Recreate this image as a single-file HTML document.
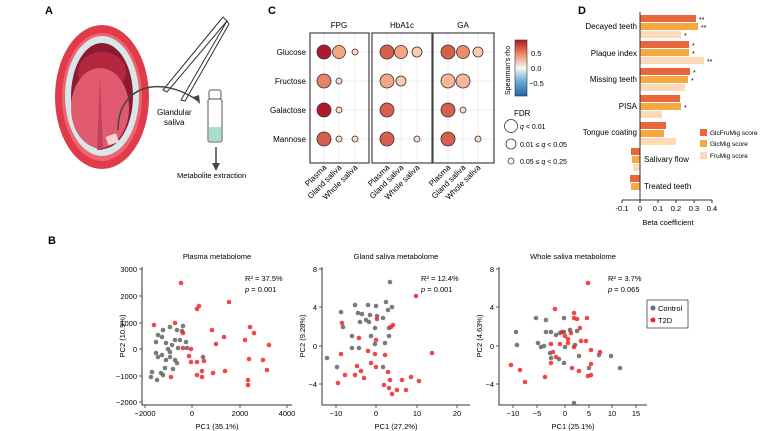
<!DOCTYPE html>
<html><head><meta charset="utf-8"><style>
html,body{margin:0;padding:0;background:#fff}
svg{display:block;font-family:"Liberation Sans",Arial,sans-serif}
</style></head><body>
<svg width="768" height="431" viewBox="0 0 768 431" xmlns="http://www.w3.org/2000/svg">
<!-- Panel A -->
<text x="45" y="14" font-size="11" font-weight="bold">A</text>
<ellipse cx="102" cy="97" rx="47" ry="72" fill="#df3b4a"/>
<ellipse cx="102" cy="97" rx="40" ry="64" fill="#f06470"/>
<ellipse cx="102" cy="96" rx="37" ry="60" fill="#d6e8ea"/>
<ellipse cx="102" cy="96" rx="31" ry="53" fill="#8e1a32"/>
<ellipse cx="102" cy="72" rx="24" ry="20" fill="#b4283f"/>
<ellipse cx="100" cy="108" rx="29" ry="40" fill="#e05a70"/>
<path d="M100 78 L97 150 L103 150 Z" fill="#c24058"/>
<rect x="107" y="135" width="11" height="9" fill="#f6d5da" transform="rotate(-20 112 140)"/>
<!-- tweezers -->
<path d="M223 17 L163 90 L167 92 L227 21 Z" fill="#fff" stroke="#333" stroke-width="1"/>
<path d="M227 21 L181 100 L185 101 L229 24 Z" fill="#fff" stroke="#333" stroke-width="1"/>
<path d="M118 130 C118 85 160 75 197 100" fill="none" stroke="#444" stroke-width="1.5"/>
<path d="M200 104 L193 97 L199 95 Z" fill="#444"/>
<text x="157" y="115" font-size="8">Glandular</text>
<text x="164" y="125" font-size="8">saliva</text>
<rect x="209" y="90" width="12" height="9" rx="2" fill="#fff" stroke="#555"/>
<rect x="208" y="99" width="14" height="43" rx="2" fill="#fff" stroke="#555"/>
<rect x="209" y="127" width="12" height="14" fill="#a8ddd0"/>
<line x1="216" y1="147" x2="216" y2="165" stroke="#444" stroke-width="1.5"/>
<path d="M212 163 L220 163 L216 171 Z" fill="#444"/>
<text x="177" y="178" font-size="7.5">Metabolite extraction</text>

<!-- Panel C -->
<text x="268" y="14" font-size="11" font-weight="bold">C</text>
<g font-size="8" text-anchor="middle">
<text x="339" y="28">FPG</text><text x="402" y="28">HbA1c</text><text x="463" y="28">GA</text></g>
<g stroke="#ececec" stroke-width="1">
<line x1="310" y1="52" x2="494" y2="52"/><line x1="310" y1="81" x2="494" y2="81"/>
<line x1="310" y1="110" x2="494" y2="110"/><line x1="310" y1="139" x2="494" y2="139"/>
<line x1="324" y1="33" x2="324" y2="163"/><line x1="339" y1="33" x2="339" y2="163"/><line x1="355" y1="33" x2="355" y2="163"/>
<line x1="387" y1="33" x2="387" y2="163"/><line x1="401" y1="33" x2="401" y2="163"/><line x1="417" y1="33" x2="417" y2="163"/>
<line x1="448" y1="33" x2="448" y2="163"/><line x1="463" y1="33" x2="463" y2="163"/><line x1="478" y1="33" x2="478" y2="163"/>
</g>
<g fill="none" stroke="#444" stroke-width="1.2">
<rect x="310" y="33" width="59" height="130"/><rect x="372" y="33" width="60" height="130"/><rect x="433" y="33" width="61" height="130"/></g>
<g font-size="8" text-anchor="end">
<text x="306" y="55">Glucose</text><text x="306" y="84">Fructose</text><text x="306" y="113">Galactose</text><text x="306" y="142">Mannose</text></g>
<g stroke="#333" stroke-width="0.8">
<circle cx="324" cy="52" r="7" fill="#b2182b"/><circle cx="339" cy="52" r="6.5" fill="#f4a582"/><circle cx="355" cy="52" r="3" fill="#fddbc7"/>
<circle cx="324" cy="81" r="7" fill="#e58267"/><circle cx="339" cy="81" r="3" fill="#fddbc7"/>
<circle cx="324" cy="110" r="7" fill="#b2182b"/><circle cx="339" cy="110" r="3" fill="#fddbc7"/>
<circle cx="324" cy="139" r="7" fill="#d6604d"/><circle cx="339" cy="139" r="3" fill="#fddbc7"/><circle cx="355" cy="139" r="3" fill="#fddbc7"/>
<circle cx="387" cy="52" r="7" fill="#d6604d"/><circle cx="401" cy="52" r="6.5" fill="#f4a582"/><circle cx="417" cy="52" r="5" fill="#fbcbb0"/>
<circle cx="387" cy="81" r="7" fill="#f4a582"/><circle cx="401" cy="81" r="5" fill="#fbcbb0"/>
<circle cx="387" cy="110" r="7" fill="#d6604d"/>
<circle cx="387" cy="139" r="7" fill="#d6604d"/><circle cx="417" cy="139" r="3" fill="#fddbc7"/>
<circle cx="448" cy="52" r="7" fill="#d6604d"/><circle cx="463" cy="52" r="6.5" fill="#ec8a6b"/><circle cx="478" cy="52" r="5" fill="#fbcbb0"/>
<circle cx="448" cy="81" r="7" fill="#f7b799"/><circle cx="463" cy="81" r="7" fill="#f7b799"/>
<circle cx="448" cy="110" r="7" fill="#d6604d"/><circle cx="463" cy="110" r="3" fill="#fddbc7"/>
<circle cx="448" cy="139" r="7" fill="#d6604d"/><circle cx="478" cy="139" r="3" fill="#fddbc7"/>
</g>
<g font-size="8" text-anchor="end">
<text transform="translate(327 168) rotate(-45)">Plasma</text><text transform="translate(342 168) rotate(-45)">Gland saliva</text><text transform="translate(358 168) rotate(-45)">Whole saliva</text>
<text transform="translate(390 168) rotate(-45)">Plasma</text><text transform="translate(404 168) rotate(-45)">Gland saliva</text><text transform="translate(420 168) rotate(-45)">Whole saliva</text>
<text transform="translate(451 168) rotate(-45)">Plasma</text><text transform="translate(466 168) rotate(-45)">Gland saliva</text><text transform="translate(481 168) rotate(-45)">Whole saliva</text>
</g>
<defs><linearGradient id="cb" x1="0" y1="0" x2="0" y2="1">
<stop offset="0" stop-color="#b2182b"/><stop offset="0.25" stop-color="#ef8a62"/><stop offset="0.5" stop-color="#f7f7f7"/><stop offset="0.75" stop-color="#67a9cf"/><stop offset="1" stop-color="#2166ac"/></linearGradient></defs>
<rect x="515" y="40" width="12" height="56" fill="url(#cb)" stroke="#333" stroke-width="0.6"/>
<g font-size="7.5"><text x="531" y="56">0.5</text><text x="531" y="71">0.0</text><text x="529" y="86">−0.5</text></g>
<text transform="translate(510 95) rotate(-90)" font-size="7">Spearman's rho</text>
<text x="514" y="116" font-size="8">FDR</text>
<g fill="#fff" stroke="#333" stroke-width="0.8"><circle cx="511" cy="126" r="6.5"/><circle cx="511" cy="144" r="5"/><circle cx="511" cy="161" r="3"/></g>
<g font-size="7"><text x="520" y="129"><tspan font-style="italic">q</tspan> &lt; 0.01</text>
<text x="520" y="147">0.01 ≤ <tspan font-style="italic">q</tspan> &lt; 0.05</text>
<text x="520" y="164">0.05 ≤ <tspan font-style="italic">q</tspan> &lt; 0.25</text></g>

<!-- Panel D -->
<text x="578" y="14" font-size="11" font-weight="bold">D</text>
<g>
<rect x="640" y="15" width="56" height="7" fill="#e8663d"/><rect x="640" y="23" width="58" height="7" fill="#f5a742"/><rect x="640" y="31" width="41" height="7" fill="#fdd9b5"/>
<rect x="640" y="41" width="49" height="7" fill="#e8663d"/><rect x="640" y="49" width="49" height="7" fill="#f5a742"/><rect x="640" y="57" width="64" height="7" fill="#fdd9b5"/>
<rect x="640" y="68" width="50" height="7" fill="#e8663d"/><rect x="640" y="76" width="48" height="7" fill="#f5a742"/><rect x="640" y="84" width="45" height="7" fill="#fdd9b5"/>
<rect x="640" y="95" width="40" height="7" fill="#e8663d"/><rect x="640" y="103" width="41" height="7" fill="#f5a742"/><rect x="640" y="111" width="22" height="7" fill="#fdd9b5"/>
<rect x="640" y="122" width="26" height="7" fill="#e8663d"/><rect x="640" y="130" width="24" height="7" fill="#f5a742"/><rect x="640" y="138" width="36" height="7" fill="#fdd9b5"/>
<rect x="631" y="148" width="9" height="7" fill="#e8663d"/><rect x="632" y="156" width="8" height="7" fill="#f5a742"/><rect x="633" y="164" width="7" height="7" fill="#fdd9b5"/>
<rect x="630" y="175" width="10" height="7" fill="#e8663d"/><rect x="631" y="183" width="9" height="7" fill="#f5a742"/>
</g>
<g font-size="7"><text x="699" y="22">**</text><text x="701" y="30">**</text><text x="684" y="38">*</text>
<text x="692" y="48">*</text><text x="692" y="56">*</text><text x="707" y="64">**</text>
<text x="693" y="75">*</text><text x="691" y="83">*</text><text x="684" y="110">*</text></g>
<line x1="640" y1="12" x2="640" y2="200" stroke="#333" stroke-width="1"/>
<line x1="622" y1="200" x2="712" y2="200" stroke="#333" stroke-width="1"/>
<g stroke="#333"><line x1="622" y1="200" x2="622" y2="203"/><line x1="640" y1="200" x2="640" y2="203"/><line x1="658" y1="200" x2="658" y2="203"/><line x1="676" y1="200" x2="676" y2="203"/><line x1="694" y1="200" x2="694" y2="203"/><line x1="712" y1="200" x2="712" y2="203"/></g>
<g font-size="7.5" text-anchor="middle"><text x="622" y="211">-0.1</text><text x="640" y="211">0</text><text x="658" y="211">0.1</text><text x="676" y="211">0.2</text><text x="694" y="211">0.3</text><text x="712" y="211">0.4</text></g>
<text x="668" y="225" font-size="7.5" text-anchor="middle">Beta coefficient</text>
<g font-size="8" text-anchor="end"><text x="637" y="29">Decayed teeth</text><text x="637" y="56">Plaque index</text><text x="637" y="82">Missing teeth</text><text x="637" y="109">PISA</text><text x="637" y="135">Tongue coating</text></g>
<g font-size="8"><text x="644" y="162">Salivary flow</text><text x="644" y="189">Treated teeth</text></g>
<rect x="700" y="129" width="7" height="7" fill="#e8663d"/><rect x="700" y="140" width="7" height="7" fill="#f5a742"/><rect x="700" y="152" width="7" height="7" fill="#fdd9b5"/>
<g font-size="6.5"><text x="710" y="135">GlcFruMig score</text><text x="710" y="146">GlcMig score</text><text x="710" y="158">FruMig score</text></g>

<!-- Panel B -->
<text x="48" y="244" font-size="11" font-weight="bold">B</text>
<g font-size="7.5" text-anchor="middle"><text x="217" y="259">Plasma metabolome</text><text x="396" y="259">Gland saliva metabolome</text><text x="573" y="259">Whole saliva metabolome</text></g>
<!-- axes -->
<g stroke="#333" stroke-width="1" fill="none">
<path d="M142 267 V405 H292"/><path d="M322 267 V405 H470"/><path d="M499 267 V405 H647"/>
</g>
<g stroke="#333" stroke-width="0.8">
<line x1="139" y1="269" x2="142" y2="269"/><line x1="139" y1="296" x2="142" y2="296"/><line x1="139" y1="323" x2="142" y2="323"/><line x1="139" y1="349" x2="142" y2="349"/><line x1="139" y1="376" x2="142" y2="376"/><line x1="139" y1="402" x2="142" y2="402"/>
<line x1="145" y1="405" x2="145" y2="408"/><line x1="192" y1="405" x2="192" y2="408"/><line x1="240" y1="405" x2="240" y2="408"/><line x1="287" y1="405" x2="287" y2="408"/>
<line x1="319" y1="269" x2="322" y2="269"/><line x1="319" y1="307" x2="322" y2="307"/><line x1="319" y1="346" x2="322" y2="346"/><line x1="319" y1="384" x2="322" y2="384"/>
<line x1="336" y1="405" x2="336" y2="408"/><line x1="376" y1="405" x2="376" y2="408"/><line x1="417" y1="405" x2="417" y2="408"/><line x1="457" y1="405" x2="457" y2="408"/>
<line x1="496" y1="269" x2="499" y2="269"/><line x1="496" y1="307" x2="499" y2="307"/><line x1="496" y1="346" x2="499" y2="346"/><line x1="496" y1="384" x2="499" y2="384"/>
<line x1="513" y1="405" x2="513" y2="408"/><line x1="537" y1="405" x2="537" y2="408"/><line x1="565" y1="405" x2="565" y2="408"/><line x1="589" y1="405" x2="589" y2="408"/><line x1="612" y1="405" x2="612" y2="408"/><line x1="636" y1="405" x2="636" y2="408"/>
</g>
<g font-size="7.5" text-anchor="end">
<text x="137" y="272">3000</text><text x="137" y="299">2000</text><text x="137" y="326">1000</text><text x="137" y="352">0</text><text x="137" y="379">−1000</text><text x="137" y="405">−2000</text>
<text x="317" y="272">8</text><text x="317" y="310">4</text><text x="317" y="349">0</text><text x="317" y="387">−4</text>
<text x="494" y="272">8</text><text x="494" y="310">4</text><text x="494" y="349">0</text><text x="494" y="387">−4</text>
</g>
<g font-size="7.5" text-anchor="middle">
<text x="145" y="416">−2000</text><text x="192" y="416">0</text><text x="240" y="416">2000</text><text x="287" y="416">4000</text>
<text x="336" y="416">−10</text><text x="376" y="416">0</text><text x="417" y="416">10</text><text x="457" y="416">20</text>
<text x="513" y="416">−10</text><text x="537" y="416">−5</text><text x="565" y="416">0</text><text x="589" y="416">5</text><text x="612" y="416">10</text><text x="636" y="416">15</text>
<text x="217" y="429">PC1 (35.1%)</text><text x="396" y="429">PC1 (27.2%)</text><text x="573" y="429">PC1 (25.1%)</text>
</g>
<g font-size="7.5" text-anchor="middle">
<text transform="translate(125 336) rotate(-90)">PC2 (10.9%)</text>
<text transform="translate(305 336) rotate(-90)">PC2 (9.28%)</text>
<text transform="translate(482 336) rotate(-90)">PC2 (4.63%)</text>
</g>
<g font-size="7.5">
<text x="245" y="281">R² = 37.5%</text><text x="245" y="292"><tspan font-style="italic">p</tspan> = 0.001</text>
<text x="421" y="281">R² = 12.4%</text><text x="421" y="292"><tspan font-style="italic">p</tspan> = 0.001</text>
<text x="608" y="281">R² = 3.7%</text><text x="608" y="292"><tspan font-style="italic">p</tspan> = 0.065</text>
</g>
<!-- grey points -->
<g fill="#6b6b6b" fill-opacity="0.9">
<circle cx="163" cy="330" r="2.3"/><circle cx="158" cy="335" r="2.3"/><circle cx="156" cy="342" r="2.3"/><circle cx="162" cy="337" r="2.3"/><circle cx="170" cy="327" r="2.3"/><circle cx="166" cy="343" r="2.3"/><circle cx="156" cy="353" r="2.3"/><circle cx="158" cy="357" r="2.3"/><circle cx="162" cy="355" r="2.3"/><circle cx="168" cy="349" r="2.3"/><circle cx="172" cy="345" r="2.3"/><circle cx="170" cy="352" r="2.3"/><circle cx="175" cy="340" r="2.3"/><circle cx="177" cy="330" r="2.3"/><circle cx="182" cy="331" r="2.3"/><circle cx="183" cy="326" r="2.3"/><circle cx="180" cy="340" r="2.3"/><circle cx="178" cy="348" r="2.3"/><circle cx="166" cy="360" r="2.3"/><circle cx="170" cy="357" r="2.3"/><circle cx="175" cy="360" r="2.3"/><circle cx="165" cy="368" r="2.3"/><circle cx="161" cy="373" r="2.3"/><circle cx="152" cy="372" r="2.3"/><circle cx="151" cy="377" r="2.3"/><circle cx="157" cy="380" r="2.3"/><circle cx="163" cy="375" r="2.3"/><circle cx="173" cy="369" r="2.3"/><circle cx="177" cy="363" r="2.3"/><circle cx="187" cy="348" r="2.3"/><circle cx="186" cy="342" r="2.3"/><circle cx="203" cy="357" r="2.3"/>
<circle cx="327" cy="358" r="2.3"/><circle cx="337" cy="367" r="2.3"/><circle cx="341" cy="312" r="2.3"/><circle cx="343" cy="327" r="2.3"/><circle cx="352" cy="336" r="2.3"/><circle cx="355" cy="305" r="2.3"/><circle cx="358" cy="313" r="2.3"/><circle cx="360" cy="322" r="2.3"/><circle cx="362" cy="314" r="2.3"/><circle cx="366" cy="320" r="2.3"/><circle cx="368" cy="305" r="2.3"/><circle cx="369" cy="322" r="2.3"/><circle cx="370" cy="315" r="2.3"/><circle cx="371" cy="336" r="2.3"/><circle cx="376" cy="306" r="2.3"/><circle cx="375" cy="328" r="2.3"/><circle cx="377" cy="316" r="2.3"/><circle cx="375" cy="344" r="2.3"/><circle cx="383" cy="318" r="2.3"/><circle cx="386" cy="302" r="2.3"/><circle cx="390" cy="282" r="2.3"/><circle cx="392" cy="307" r="2.3"/><circle cx="389" cy="328" r="2.3"/><circle cx="389" cy="336" r="2.3"/><circle cx="385" cy="343" r="2.3"/><circle cx="359" cy="348" r="2.3"/><circle cx="352" cy="348" r="2.3"/><circle cx="388" cy="310" r="2.3"/><circle cx="383" cy="367" r="2.3"/>
<circle cx="516" cy="332" r="2.3"/><circle cx="517" cy="345" r="2.3"/><circle cx="536" cy="318" r="2.3"/><circle cx="546" cy="320" r="2.3"/><circle cx="564" cy="318" r="2.3"/><circle cx="538" cy="343" r="2.3"/><circle cx="541" cy="347" r="2.3"/><circle cx="544" cy="346" r="2.3"/><circle cx="546" cy="332" r="2.3"/><circle cx="551" cy="332" r="2.3"/><circle cx="556" cy="335" r="2.3"/><circle cx="560" cy="333" r="2.3"/><circle cx="564" cy="332" r="2.3"/><circle cx="570" cy="330" r="2.3"/><circle cx="577" cy="331" r="2.3"/><circle cx="550" cy="353" r="2.3"/><circle cx="551" cy="358" r="2.3"/><circle cx="559" cy="359" r="2.3"/><circle cx="564" cy="363" r="2.3"/><circle cx="565" cy="347" r="2.3"/><circle cx="575" cy="345" r="2.3"/><circle cx="579" cy="356" r="2.3"/><circle cx="589" cy="368" r="2.3"/><circle cx="599" cy="355" r="2.3"/><circle cx="611" cy="356" r="2.3"/><circle cx="620" cy="368" r="2.3"/><circle cx="574" cy="403" r="2.3"/>
</g>
<!-- red points -->
<g fill="#f0262b" fill-opacity="0.85">
<circle cx="181" cy="283" r="2.3"/><circle cx="154" cy="325" r="2.3"/><circle cx="175" cy="323" r="2.3"/><circle cx="183" cy="333" r="2.3"/><circle cx="199" cy="306" r="2.3"/><circle cx="197" cy="309" r="2.3"/><circle cx="229" cy="302" r="2.3"/><circle cx="212" cy="330" r="2.3"/><circle cx="216" cy="344" r="2.3"/><circle cx="224" cy="337" r="2.3"/><circle cx="183" cy="348" r="2.3"/><circle cx="191" cy="349" r="2.3"/><circle cx="189" cy="356" r="2.3"/><circle cx="191" cy="362" r="2.3"/><circle cx="197" cy="362" r="2.3"/><circle cx="204" cy="361" r="2.3"/><circle cx="197" cy="375" r="2.3"/><circle cx="202" cy="377" r="2.3"/><circle cx="202" cy="371" r="2.3"/><circle cx="171" cy="377" r="2.3"/><circle cx="213" cy="373" r="2.3"/><circle cx="225" cy="371" r="2.3"/><circle cx="245" cy="340" r="2.3"/><circle cx="250" cy="327" r="2.3"/><circle cx="254" cy="333" r="2.3"/><circle cx="269" cy="345" r="2.3"/><circle cx="263" cy="360" r="2.3"/><circle cx="248" cy="385" r="2.3"/><circle cx="248" cy="380" r="2.3"/><circle cx="267" cy="370" r="2.3"/><circle cx="249" cy="359" r="2.3"/>
<circle cx="342" cy="323" r="2.3"/><circle cx="338" cy="383" r="2.3"/><circle cx="341" cy="354" r="2.3"/><circle cx="345" cy="375" r="2.3"/><circle cx="355" cy="375" r="2.3"/><circle cx="357" cy="366" r="2.3"/><circle cx="361" cy="371" r="2.3"/><circle cx="364" cy="378" r="2.3"/><circle cx="371" cy="363" r="2.3"/><circle cx="375" cy="354" r="2.3"/><circle cx="376" cy="367" r="2.3"/><circle cx="376" cy="340" r="2.3"/><circle cx="389" cy="388" r="2.3"/><circle cx="384" cy="385" r="2.3"/><circle cx="390" cy="380" r="2.3"/><circle cx="391" cy="327" r="2.3"/><circle cx="393" cy="325" r="2.3"/><circle cx="385" cy="355" r="2.3"/><circle cx="368" cy="351" r="2.3"/><circle cx="377" cy="319" r="2.3"/><circle cx="392" cy="394" r="2.3"/><circle cx="359" cy="338" r="2.3"/><circle cx="416" cy="296" r="2.3"/><circle cx="432" cy="353" r="2.3"/><circle cx="402" cy="380" r="2.3"/><circle cx="406" cy="390" r="2.3"/><circle cx="411" cy="377" r="2.3"/><circle cx="419" cy="381" r="2.3"/><circle cx="397" cy="390" r="2.3"/><circle cx="388" cy="372" r="2.3"/>
<circle cx="588" cy="283" r="2.3"/><circle cx="555" cy="309" r="2.3"/><circle cx="574" cy="318" r="2.3"/><circle cx="574" cy="313" r="2.3"/><circle cx="587" cy="318" r="2.3"/><circle cx="580" cy="328" r="2.3"/><circle cx="565" cy="336" r="2.3"/><circle cx="568" cy="339" r="2.3"/><circle cx="562" cy="332" r="2.3"/><circle cx="560" cy="344" r="2.3"/><circle cx="568" cy="343" r="2.3"/><circle cx="581" cy="341" r="2.3"/><circle cx="586" cy="341" r="2.3"/><circle cx="591" cy="350" r="2.3"/><circle cx="600" cy="352" r="2.3"/><circle cx="591" cy="364" r="2.3"/><circle cx="588" cy="376" r="2.3"/><circle cx="591" cy="375" r="2.3"/><circle cx="511" cy="365" r="2.3"/><circle cx="520" cy="370" r="2.3"/><circle cx="525" cy="382" r="2.3"/><circle cx="545" cy="377" r="2.3"/><circle cx="551" cy="344" r="2.3"/><circle cx="553" cy="352" r="2.3"/><circle cx="556" cy="357" r="2.3"/><circle cx="551" cy="363" r="2.3"/><circle cx="572" cy="368" r="2.3"/><circle cx="579" cy="371" r="2.3"/><circle cx="577" cy="319" r="2.3"/><circle cx="571" cy="333" r="2.3"/><circle cx="574" cy="347" r="2.3"/>
</g>
<!-- legend -->
<rect x="647" y="300" width="41" height="28" fill="#fff" stroke="#444" stroke-width="0.8"/>
<circle cx="653" cy="308" r="2.5" fill="#6b6b6b"/><circle cx="653" cy="320" r="2.5" fill="#f0262b"/>
<g font-size="7.5"><text x="658" y="311">Control</text><text x="658" y="323">T2D</text></g>
</svg>
</body></html>
